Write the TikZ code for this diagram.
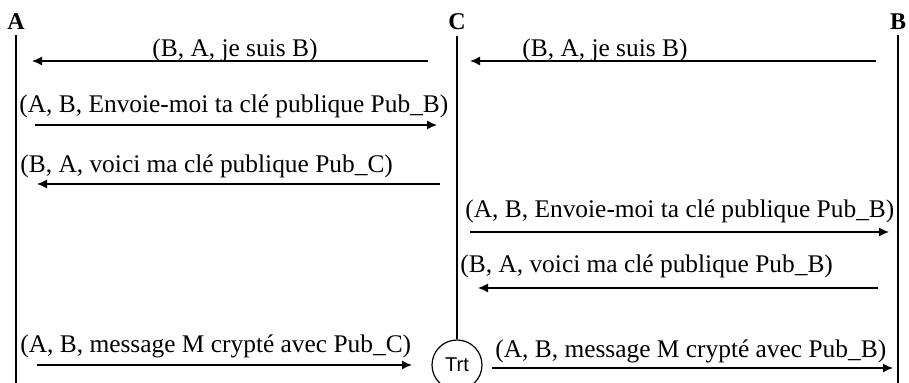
\documentclass[tikz,border=0pt]{standalone}
\usepackage{fontspec}
\setmainfont{Liberation Serif}
\newfontfamily\trtfont{Liberation Sans}
\usetikzlibrary{arrows.meta}

\begin{document}
\begin{tikzpicture}[x=0.5pt,y=-0.5pt,>={Latex[length=5pt,width=4.5pt]},
  msg/.style={->,line width=0.7pt},
  life/.style={line width=0.7pt},
  head/.style={font=\bfseries\fontsize{12}{14}\selectfont,inner sep=2.5pt,anchor=base},
  lbl/.style={font=\fontsize{12.7}{15}\selectfont,inner sep=0pt,anchor=base west}]
  \useasboundingbox (0,0) rectangle (909,383);

  % participants
  \node[head] (A) at (16,30) {A};
  \node[head] (C) at (457,30) {C};
  \node[head] (B) at (898,30) {B};
  \node[circle,draw,line width=0.6pt,minimum size=25pt,inner sep=0pt,
    font=\trtfont\fontsize{10}{12}\selectfont] (Trt) at (457,365) {Trt};

  % lifelines
  \coordinate (Aend) at (16,383);
  \coordinate (Bend) at (898,383);
  \draw[life] (A.south) -- (Aend);
  \draw[life] (C.south) -- (Trt);
  \draw[life] (B.south) -- (Bend);

  % A <-> C
  \coordinate (m1s) at (428,61);  \coordinate (m1e) at (32,61);
  \coordinate (m2s) at (35,125);  \coordinate (m2e) at (437,125);
  \coordinate (m3s) at (440,184); \coordinate (m3e) at (37,184);
  \coordinate (m6s) at (37,365);  \coordinate (m6e) at (412,365);
  % C <-> B
  \coordinate (m0s) at (876,61);  \coordinate (m0e) at (470,61);
  \coordinate (m4s) at (470,232); \coordinate (m4e) at (889,232);
  \coordinate (m5s) at (878,288); \coordinate (m5e) at (478,288);
  \coordinate (m7s) at (492,368); \coordinate (m7e) at (893,368);

  \draw[msg] (m1s) -- (m1e);
  \draw[msg] (m0s) -- (m0e);
  \draw[msg] (m2s) -- (m2e);
  \draw[msg] (m3s) -- (m3e);
  \draw[msg] (m4s) -- (m4e);
  \draw[msg] (m5s) -- (m5e);
  \draw[msg] (m6s) -- (m6e);
  \draw[msg] (m7s) -- (m7e);

  % labels
  \node[lbl] (l1) at (152,57) {(B, A, je suis B)};
  \node[lbl] (l0) at (522,57) {(B, A, je suis B)};
  \node[lbl] (l2) at (19,113) {(A, B, Envoie-moi ta clé publique Pub\_B)};
  \node[lbl] (l3) at (20,173) {(B, A, voici ma clé publique Pub\_C)};
  \node[lbl] (l4) at (465,218) {(A, B, Envoie-moi ta clé publique Pub\_B)};
  \node[lbl] (l5) at (460,273) {(B, A, voici ma clé publique Pub\_B)};
  \node[lbl] (l6) at (20,353) {(A, B, message M crypté avec Pub\_C)};
  \node[lbl] (l7) at (495,358) {(A, B, message M crypté avec Pub\_B)};
\end{tikzpicture}
\end{document}
